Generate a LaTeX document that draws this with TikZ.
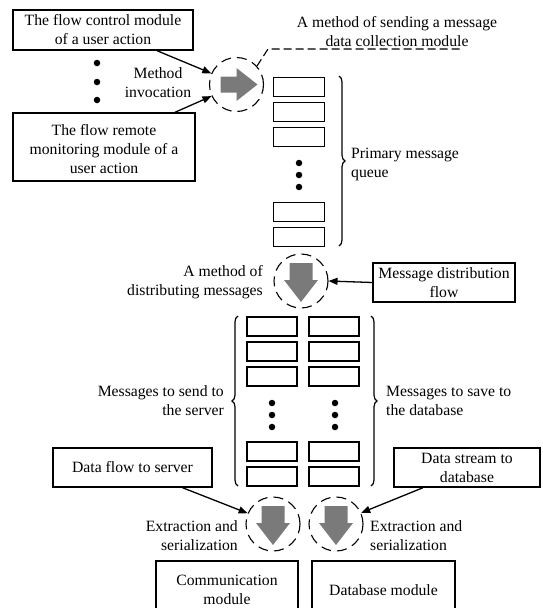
\documentclass[tikz,border=0pt]{standalone}
\usepackage{fontspec}
\setmainfont{Liberation Serif}
\usetikzlibrary{arrows.meta,decorations.pathreplacing,calc}
\begin{document}
\begin{tikzpicture}[x=1pt,y=-1pt,
  every node/.style={font=\fontsize{15.7}{19}\selectfont},
  box/.style={draw,line width=1.4pt,inner sep=0pt,align=center},
  qbox/.style={draw,line width=1.4pt,minimum width=51pt,minimum height=19pt,inner sep=0pt},
  dcirc/.style={circle,draw,dash pattern=on 10pt off 6pt,line width=1.1pt,minimum size=54pt,inner sep=0pt},
  conn/.style={line width=1.3pt,-{Triangle[length=9pt,width=7pt]}},
  lbl/.style={inner sep=0pt,align=center},
  dotn/.style={circle,fill,inner sep=0pt,minimum size=6.5pt},
  brc/.style={decorate,decoration={brace,amplitude=6pt},line width=1.2pt},
  arrowfill/.style={fill=black!52},
  leader/.style={line width=1.1pt,dash pattern=on 8pt off 4pt}
]
\useasboundingbox (0,0) rectangle (542,608);
\clip (0,0) rectangle (542,608);

% top-left modules
\node[box,minimum width=180pt,minimum height=40pt] (fc) at (103,30) {The flow control module\\of a user action};
\node[box,minimum width=182pt,minimum height=68pt] (frm) at (104,147) {\rule{0pt}{15pt}The flow remote\\monitoring module of a\\user action};
\node[dotn] (d1) at (97,63) {};
\node[dotn] (d2) at (97,82) {};
\node[dotn] (d3) at (97,100) {};
\node[lbl] (mi) at (158,83) {Method\\invocation};

% circle 1 with right arrow
\node[dcirc] (c1) at (236.5,84.5) {};
\begin{scope}[shift={(c1)}]
\fill[arrowfill] (-16,-8) -- (0,-8) -- (0,-16.5) -- (21,0) -- (0,16.5) -- (0,8) -- (-16,8) -- cycle;
\end{scope}
\draw[conn] ([xshift=54pt]fc.south) -- (c1.156);
\draw[conn] ([xshift=71pt]frm.north) -- (c1.205);

% leader
\coordinate (ld1) at (268,49);
\coordinate (ld2) at (462,49);
\draw[leader] (c1.42) -- (ld1) -- (ld2);
\node[lbl] (msend) at (397,32) {A method of sending a message\\data collection module};

% primary queue
\node[qbox] (q1) at (299,87) {};
\node[qbox] (q2) at (299,112) {};
\node[qbox] (q3) at (299,137) {};
\node[qbox] (q4) at (299,212) {};
\node[qbox] (q5) at (299,237) {};
\node[dotn] (qd1) at (299,163) {};
\node[dotn] (qd2) at (299,175) {};
\node[dotn] (qd3) at (299,187) {};
\draw[brc] (339,76) -- (339,246);
\node[lbl,align=left,anchor=west] (pmq) at (351,164) {Primary message\\queue};

% circle 2 with down arrow
\node[dcirc] (c2) at (301,281) {};
\begin{scope}[shift={(c2)}]
\fill[arrowfill] (-11.5,-18) -- (11.5,-18) -- (11.5,-1) -- (17,-1) -- (0,21) -- (-17,-1) -- (-11.5,-1) -- cycle;
\end{scope}
\node[lbl,align=right,anchor=east] (mdm) at (263,282) {A method of\\distributing messages};
\node[box,minimum width=142pt,minimum height=39pt] (mdf) at (444,282.5) {Message distribution\\flow};
\draw[conn] (mdf.west) -- (c2.east);

% two queues
\foreach \y [count=\i] in {326.5,351.5,376.5,451.5,476.5} {
  \node[qbox,minimum width=50pt] (sl\i) at (272,\y) {};
  \node[qbox,minimum width=50pt] (sr\i) at (334,\y) {};
}
\node[dotn] (ld1a) at (272,403) {};
\node[dotn] (ld2a) at (272,415) {};
\node[dotn] (ld3a) at (272,427) {};
\node[dotn] (rd1) at (335,403) {};
\node[dotn] (rd2) at (335,415) {};
\node[dotn] (rd3) at (335,427) {};
\draw[brc] (238,486) -- (238,316);
\draw[brc] (371,316) -- (371,486);
\node[lbl,align=right,anchor=east] (mss) at (224,401) {Messages to send to\\the server};
\node[lbl,align=left,anchor=west] (msd) at (386,401) {Messages to save to\\the database};

% data flow boxes
\node[box,minimum width=159pt,minimum height=39pt] (dfs) at (132.5,467.5) {Data flow to server};
\node[box,minimum width=146pt,minimum height=39pt] (dsd) at (467,467.5) {Data stream to\\database};

% circles 3 and 4
\node[dcirc] (c3) at (273,524) {};
\node[dcirc] (c4) at (336,524) {};
\foreach \c in {c3,c4} {
\begin{scope}[shift={(\c)}]
\fill[arrowfill] (-11.5,-18) -- (11.5,-18) -- (11.5,-1) -- (17,-1) -- (0,21) -- (-17,-1) -- (-11.5,-1) -- cycle;
\end{scope}
}
\draw[conn] ([xshift=50pt]dfs.south) -- (c3.157);
\draw[conn] ([xshift=-44pt]dsd.south) -- (c4.24);
\node[lbl,align=right,anchor=east] (es1) at (238,535.5) {Extraction and\\serialization};
\node[lbl,align=left,anchor=west] (es2) at (370,535.5) {Extraction and\\serialization};

% bottom modules
\node[box,minimum width=142pt,minimum height=58pt] (cm) at (227,590) {Communication\\module};
\node[box,minimum width=143pt,minimum height=58pt] (dm) at (383.5,590) {Database module};
\end{tikzpicture}
\end{document}
